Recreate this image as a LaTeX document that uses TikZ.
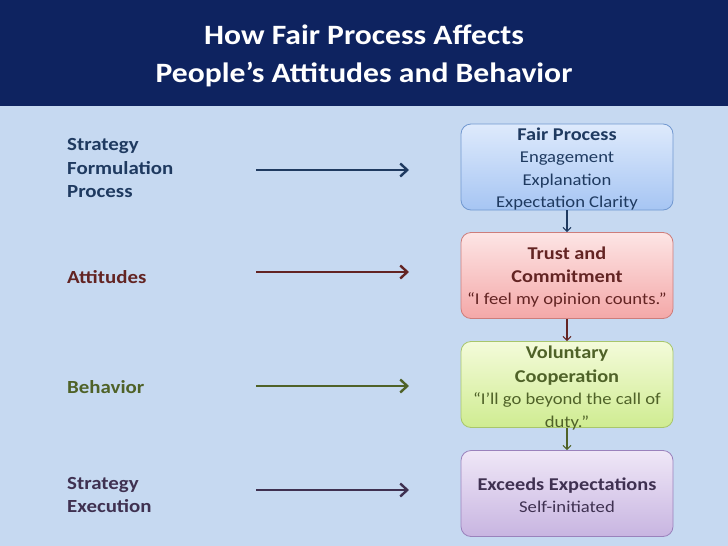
\documentclass[tikz,border=0pt]{standalone}
\usepackage{fontspec}
\setmainfont{Carlito}[FakeStretch=1.13]
\usetikzlibrary{positioning,arrows.meta}
\definecolor{hdnavy}{HTML}{0E2360}
\definecolor{slidebg}{HTML}{C6D9F1}
\definecolor{inknavy}{HTML}{1F3A60}
\definecolor{inkred}{HTML}{632423}
\definecolor{inkgreen}{HTML}{4F6228}
\definecolor{inkpurple}{HTML}{3F3151}
\definecolor{bluetop}{HTML}{DEEAFC}
\definecolor{bluebot}{HTML}{A6C5F3}
\definecolor{bluebd}{HTML}{7198D0}
\definecolor{redtop}{HTML}{FDE5E5}
\definecolor{redbot}{HTML}{F4A8A8}
\definecolor{redbd}{HTML}{CD7D7B}
\definecolor{greentop}{HTML}{F4FBDA}
\definecolor{greenbot}{HTML}{CFEC91}
\definecolor{greenbd}{HTML}{A8C66C}
\definecolor{purptop}{HTML}{EFE7F7}
\definecolor{purpbot}{HTML}{C8B5E1}
\definecolor{purpbd}{HTML}{9A82BC}
\tikzset{
  fp title/.style={align=center, text=white, inner sep=0pt, font=\fontsize{28}{38}\selectfont\bfseries},
  fp head/.style={align=left, anchor=west, inner sep=0pt, font=\fontsize{18.5}{23.5}\selectfont\bfseries},
  fp box/.style={rounded corners=10pt, minimum width=212pt, minimum height=86pt, line width=0.8pt, inner sep=0pt},
  fp txt/.style={align=center, inner sep=0pt, font=\fontsize{16.5}{22.4}\selectfont},
  fp arr/.style={-{Straight Barb[length=7pt,width=13pt,line width=2.4pt]}, line width=2.6pt},
  fp link/.style={-{Straight Barb[length=4pt,width=8pt]}, line width=1.1pt},
}
\newcommand{\bxhead}[1]{{\fontsize{18}{23}\selectfont\bfseries #1}}

\begin{document}
\begin{tikzpicture}[x=1pt, y=-1pt]
  \fill[slidebg] (0,0) rectangle (728,546);
  \fill[hdnavy] (0,0) rectangle (728,106);
  \node[fp title] (title) at (364,56) {How Fair Process Affects\\People’s Attitudes and Behavior};
  % left column: stage labels and their arrows
  \foreach \nm/\yl/\ya/\cl/\txt in {form/168/170/inknavy/{Strategy\\Formulation\\Process},
      att/277/272/inkred/{Attitudes}, beh/387/386/inkgreen/{Behavior},
      exec/495/490/inkpurple/{Strategy\\Execution}} {
     \node[fp head, text=\cl] (lab\nm) at (67,\yl) {\txt};
     \coordinate (s\nm) at (256,\ya);
     \coordinate (e\nm) at (409,\ya);
     \draw[fp arr, \cl] (s\nm) -- (e\nm);
  }
  % right column: the four boxes
  \node[fp box, draw=bluebd, top color=bluetop, bottom color=bluebot] (fair) at (567,167) {};
  \node[fp box, draw=redbd, top color=redtop, bottom color=redbot] (trust) at (567,275.5) {};
  \node[fp box, draw=greenbd, top color=greentop, bottom color=greenbot] (coop) at (567,384.5) {};
  \node[fp box, draw=purpbd, top color=purptop, bottom color=purpbot] (exceed) at (567,493.5) {};
  \node[fp txt, text=inknavy] (fairtxt) at ([yshift=-2pt]fair.center) {\bxhead{Fair Process}\\Engagement\\Explanation\\Expectation Clarity};
  \node[fp txt, text=inkred] (trusttxt) at ([yshift=-1.5pt]trust.center) {\bxhead{Trust and}\\[1pt]\bxhead{Commitment}\\“I feel my opinion counts.”};
  \node[fp txt, text=inkgreen] (cooptxt) at ([yshift=-3.5pt]coop.center) {\bxhead{Voluntary}\\[1pt]\bxhead{Cooperation}\\“I’ll go beyond the call of\\duty.”};
  \node[fp txt, text=inkpurple] (exceedtxt) at ([yshift=-2pt]exceed.center) {\bxhead{Exceeds Expectations}\\Self-initiated};
  \draw[fp link, inknavy] (fair) -- (trust);
  \draw[fp link, inkred] (trust) -- (coop);
  \draw[fp link, inkgreen] (coop) -- (exceed);
\end{tikzpicture}
\end{document}
